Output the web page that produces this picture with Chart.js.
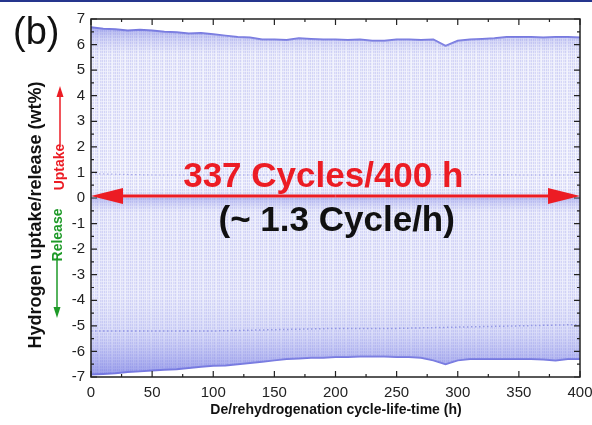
<!DOCTYPE html>
<html>
<head>
<meta charset="utf-8">
<script src="https://cdn.jsdelivr.net/npm/chart.js@4.4.1/dist/chart.umd.min.js"></script>
<style>
html, body { margin:0; padding:0; background:#fff; }
#wrap { width:592px; height:425px; }
</style>
</head>
<body>
<div id="wrap"><canvas id="cycleChart" width="592" height="425"></canvas></div>
<script>
let hours = [0,10,20,30,40,50,60,70,80,90,100,110,120,130,140,150,160,170,180,190,200,
             210,220,230,240,250,260,270,280,290,300,310,320,330,340,350,360,370,380,390,400];
let uptakeTop = [6.68,6.62,6.6,6.55,6.58,6.55,6.5,6.48,6.43,6.45,6.4,6.35,6.3,6.28,6.2,6.2,6.18,6.25,6.22,6.2,6.2,
                 6.18,6.2,6.15,6.15,6.2,6.2,6.18,6.2,5.95,6.15,6.2,6.22,6.25,6.3,6.3,6.3,6.28,6.3,6.3,6.28];
let releaseBottom = [-6.9,-6.88,-6.85,-6.8,-6.78,-6.75,-6.72,-6.7,-6.65,-6.6,-6.56,-6.55,-6.5,-6.45,-6.4,-6.35,-6.3,-6.28,-6.25,-6.25,-6.22,
                     -6.22,-6.2,-6.2,-6.2,-6.22,-6.22,-6.25,-6.35,-6.5,-6.35,-6.3,-6.3,-6.3,-6.3,-6.3,-6.3,-6.32,-6.35,-6.3,-6.3];

// the faint dotted plateaus inside each half-cycle
let plateauHours = [0,50,100,150,200,250,300,350,400];
let uptakePlateau = [0.95,0.9,0.9,0.9,0.88,0.9,0.92,0.9,0.9];
let releasePlateau = [-5.2,-5.2,-5.2,-5.15,-5.1,-5.1,-5.05,-5.0,-4.95];

let xTicks = [0,50,100,150,200,250,300,350,400];
let yTicks = [-7,-6,-5,-4,-3,-2,-1,0,1,2,3,4,5,6,7];

let fontName = '"Liberation Sans", Arial, sans-serif';

let pts = (xs, ys) => xs.map((x, i) => ({ x: x, y: ys[i] }));

// vertical dotted strokes, one every ~1.5 px like the dense cycles
let makeStripes = () => {
    let c = document.createElement('canvas');
    c.width = 13; c.height = 3;
    let g = c.getContext('2d');
    let cols = [0.3, 0.1, 0.28, 0, 0.22, 0.12, 0.3, 0.08, 0, 0.26, 0.15, 0.3, 0.05];
    cols.forEach((al, i) => {
        g.fillStyle = 'rgba(105,110,225,' + al + ')';
        g.fillRect(i, 0, 1, 2);
        g.fillStyle = 'rgba(105,110,225,' + (al * 0.3) + ')';
        g.fillRect(i, 2, 1, 1);
    });
    return g.createPattern(c, 'repeat');
};
let stripes = makeStripes();

let bandFill = (up) => (c) => {
    let ch = c.chart;
    if (!ch.chartArea) return 'transparent';
    let y = ch.scales.y;
    let y0 = y.getPixelForValue(0), y1 = y.getPixelForValue(up ? 7 : -7);
    let g = ch.ctx.createLinearGradient(0, y0, 0, y1);
    if (up) {
        g.addColorStop(0, 'rgba(175,180,240,0.4)');
        g.addColorStop(0.06, 'rgba(220,222,248,0.25)');
        g.addColorStop(0.8, 'rgba(210,213,246,0.3)');
        g.addColorStop(0.9, 'rgba(150,155,232,0.45)');
        g.addColorStop(1, 'rgba(100,105,222,0.75)');
    } else {
        g.addColorStop(0, 'rgba(140,145,230,0.55)');
        g.addColorStop(0.08, 'rgba(205,208,246,0.3)');
        g.addColorStop(0.55, 'rgba(205,208,246,0.35)');
        g.addColorStop(0.75, 'rgba(175,180,240,0.45)');
        g.addColorStop(1, 'rgba(110,115,225,0.7)');
    }
    return g;
};

let arrow = (ctx, x1, y1, x2, y2, head, half, color, lw) => {
    let a = Math.atan2(y2 - y1, x2 - x1);
    let bx = x2 - head * Math.cos(a), by = y2 - head * Math.sin(a);
    ctx.strokeStyle = color;
    ctx.fillStyle = color;
    ctx.lineWidth = lw;
    ctx.beginPath();
    ctx.moveTo(x1, y1);
    ctx.lineTo(bx, by);
    ctx.stroke();
    ctx.beginPath();
    ctx.moveTo(x2, y2);
    ctx.lineTo(bx - half * Math.sin(a), by + half * Math.cos(a));
    ctx.lineTo(bx + half * Math.sin(a), by - half * Math.cos(a));
    ctx.closePath();
    ctx.fill();
};

let decor = {
    id: 'decor',
    beforeDraw: (ch) => {
        let ctx = ch.ctx;
        ctx.save();
        ctx.fillStyle = '#fff';
        ctx.fillRect(0, 0, ch.width, ch.height);
        ctx.fillStyle = '#25358d';
        ctx.fillRect(0, 0, ch.width, 2);
        ctx.restore();
    },
    afterDatasetsDraw: (ch) => {
        let ctx = ch.ctx, x = ch.scales.x, y = ch.scales.y;
        let xl = x.getPixelForValue(0), xr = x.getPixelForValue(400);
        let y0 = y.getPixelForValue(0) - 2;
        ctx.save();
        // double headed arrow along the zero line
        let mid = (xl + xr) / 2;
        arrow(ctx, mid, y0, xl, y0, 32, 8, '#ec1c24', 3.2);
        arrow(ctx, mid, y0, xr, y0, 32, 8, '#ec1c24', 3.2);
        ctx.textAlign = 'center';
        ctx.textBaseline = 'alphabetic';
        ctx.font = 'bold 35px ' + fontName;
        ctx.fillStyle = '#ec1c24';
        ctx.fillText('337 Cycles/400 h', x.getPixelForValue(190), y.getPixelForValue(0) - 11);
        ctx.fillStyle = '#111';
        ctx.fillText('(~ 1.3 Cycle/h)', x.getPixelForValue(201), y.getPixelForValue(0) + 33);
        ctx.restore();
    },
    afterDraw: (ch) => {
        let ctx = ch.ctx, x = ch.scales.x, y = ch.scales.y, a = ch.chartArea;
        ctx.save();
        ctx.strokeStyle = '#222';
        ctx.lineWidth = 1.5;
        ctx.strokeRect(a.left, a.top, a.right - a.left, a.bottom - a.top);
        ctx.lineWidth = 1.2;
        let mids = (arr) => arr.slice(1).map((v, i) => (v + arr[i]) / 2);
        ctx.beginPath();
        xTicks.forEach(v => {
            let px = x.getPixelForValue(v);
            ctx.moveTo(px, a.bottom); ctx.lineTo(px, a.bottom - 6);
            ctx.moveTo(px, a.top); ctx.lineTo(px, a.top + 6);
        });
        mids(xTicks).forEach(v => {
            let px = x.getPixelForValue(v);
            ctx.moveTo(px, a.bottom); ctx.lineTo(px, a.bottom - 3);
            ctx.moveTo(px, a.top); ctx.lineTo(px, a.top + 3);
        });
        yTicks.forEach(v => {
            let py = y.getPixelForValue(v);
            ctx.moveTo(a.left, py); ctx.lineTo(a.left + 6, py);
            ctx.moveTo(a.right, py); ctx.lineTo(a.right - 6, py);
        });
        mids(yTicks).forEach(v => {
            let py = y.getPixelForValue(v);
            ctx.moveTo(a.left, py); ctx.lineTo(a.left + 3, py);
            ctx.moveTo(a.right, py); ctx.lineTo(a.right - 3, py);
        });
        ctx.stroke();

        // axis titles
        ctx.fillStyle = '#111';
        ctx.textAlign = 'center';
        ctx.textBaseline = 'middle';
        ctx.font = 'bold 14px ' + fontName;
        ctx.fillText('De/rehydrogenation cycle-life-time (h)', 336, 410);
        ctx.save();
        ctx.translate(36, 215);
        ctx.rotate(-Math.PI / 2);
        ctx.font = 'bold 18px ' + fontName;
        ctx.fillText('Hydrogen uptake/release (wt%)', 0, 0);
        ctx.restore();

        ctx.save();
        ctx.translate(60, 167);
        ctx.rotate(-Math.PI / 2);
        ctx.font = 'bold 14px ' + fontName;
        ctx.fillStyle = '#ec1c24';
        ctx.fillText('Uptake', 0, 0);
        ctx.fillStyle = '#1e9a28';
        ctx.fillText('Release', -68, -2);
        ctx.restore();
        arrow(ctx, 60, 147, 60, 86, 11, 3.5, '#ec1c24', 1.5);
        arrow(ctx, 57, 258, 57, 318, 11, 3.5, '#1e9a28', 1.5);

        ctx.font = '38px ' + fontName;
        ctx.textAlign = 'left';
        ctx.textBaseline = 'alphabetic';
        ctx.fillStyle = '#111';
        ctx.fillText('(b)', 13, 44);
        ctx.restore();
    }
};

let ctx = document.getElementById('cycleChart');
new Chart(ctx, {
    type: 'line',
    data: {
        datasets: [
            { data: pts(hours, uptakeTop), fill: 'origin', backgroundColor: bandFill(true), borderWidth: 0 },
            { data: pts(hours, uptakeTop), fill: 'origin', backgroundColor: stripes, borderColor: 'rgba(85,88,215,0.8)', borderWidth: 2 },
            { data: pts(hours, releaseBottom), fill: 'origin', backgroundColor: bandFill(false), borderWidth: 0 },
            { data: pts(hours, releaseBottom), fill: 'origin', backgroundColor: stripes, borderColor: 'rgba(85,88,215,0.8)', borderWidth: 2 },
            { data: pts(plateauHours, uptakePlateau), fill: false, borderColor: 'rgba(80,85,205,0.55)', borderWidth: 1.2, borderDash: [1.5, 2.5] },
            { data: pts(plateauHours, releasePlateau), fill: false, borderColor: 'rgba(70,75,200,0.7)', borderWidth: 1.5, borderDash: [1.5, 2.5] }
        ]
    },
    options: {
        responsive: false,
        animation: false,
        layout: { padding: { top: 19, right: 12, left: 0, bottom: 0 } },
        plugins: { legend: { display: false }, tooltip: { enabled: false } },
        elements: { point: { radius: 0 }, line: { tension: 0 } },
        scales: {
            x: {
                type: 'linear', min: 0, max: 400,
                afterBuildTicks: s => { s.ticks = xTicks.map(v => ({ value: v })); },
                afterFit: s => { s.height = 48; s.paddingRight = 0; s.paddingLeft = 0; },
                grid: { display: false, drawTicks: false }, border: { display: false },
                ticks: { font: { family: fontName, size: 15 }, color: '#222', padding: 7, maxRotation: 0, autoSkip: false }
            },
            y: {
                type: 'linear', min: -7, max: 7,
                afterBuildTicks: s => { s.ticks = yTicks.map(v => ({ value: v })); },
                afterFit: s => { s.width = 91; },
                grid: { display: false, drawTicks: false }, border: { display: false },
                ticks: { font: { family: fontName, size: 15 }, color: '#222', padding: 6, autoSkip: false }
            }
        }
    },
    plugins: [decor]
});
</script>
</body>
</html>
